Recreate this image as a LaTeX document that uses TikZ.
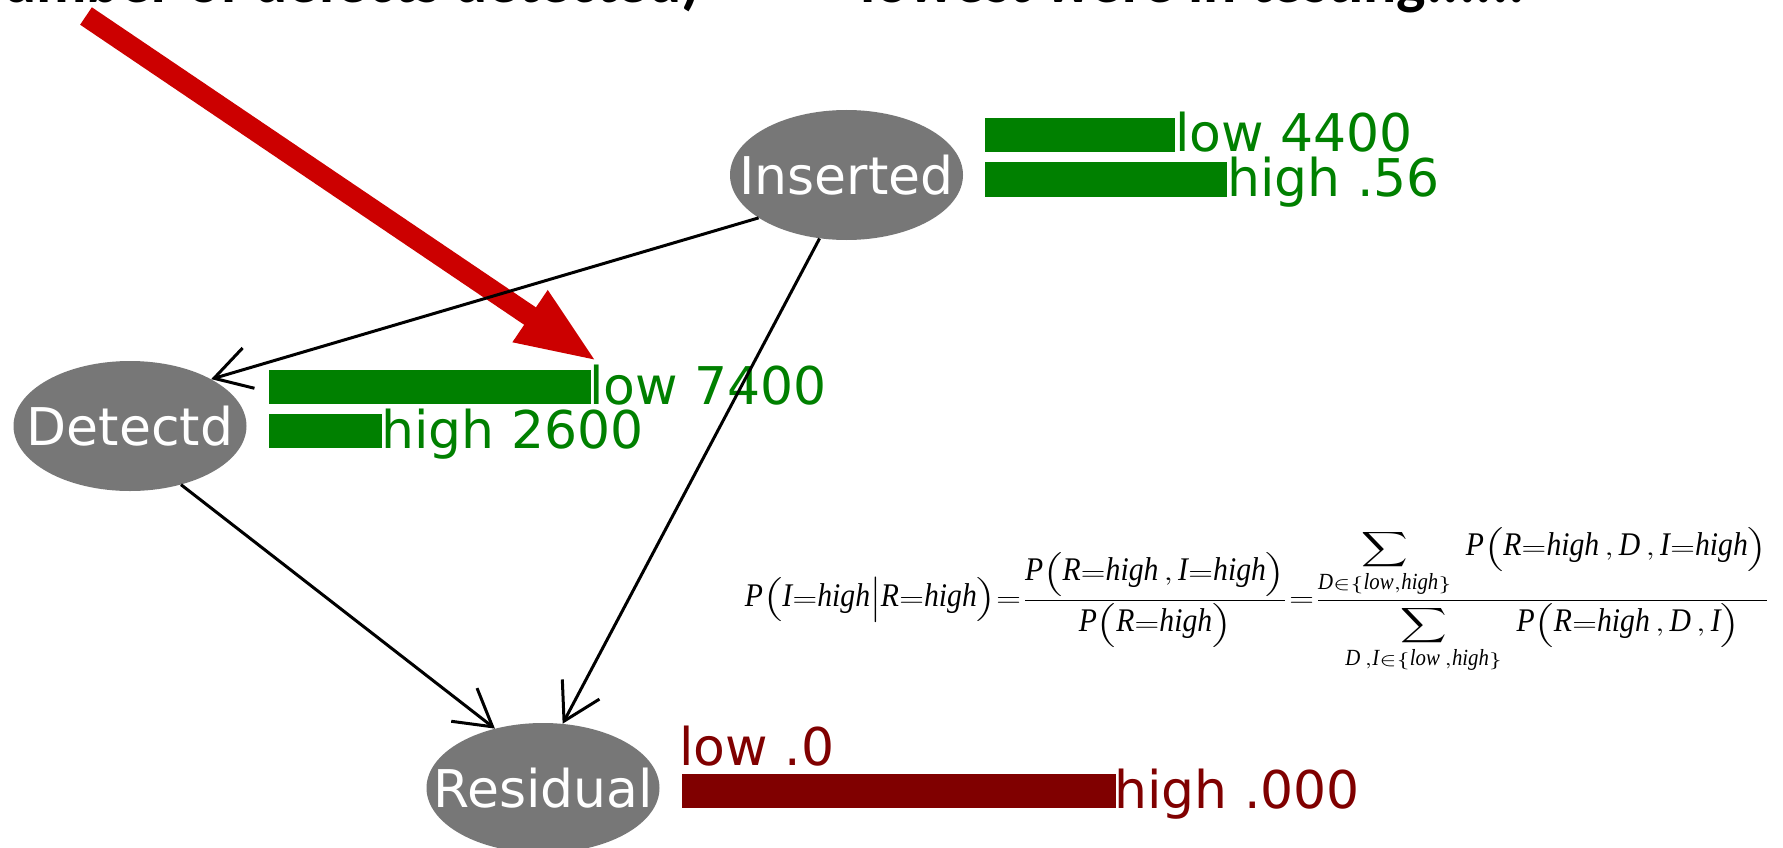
\documentclass[tikz,border=0pt]{standalone}
\usepackage{amsmath}
\usepackage{graphicx}
\usepackage{fontspec}
\usetikzlibrary{shapes.geometric,arrows.meta}

\newfontfamily\netfont{DejaVu Sans}
\newfontfamily\formfont{Liberation Serif}
\newfontfamily\slidefont{Carlito}

% italic variable names in the formula, set tall and narrow
\newcommand\fv[1]{\text{\scalebox{0.92}[1.35]{\formfont\itshape #1}}}
% node caption that does not widen the ellipse
\newcommand\nodecap[1]{\makebox[0pt]{#1}}

\definecolor{nodegrey}{HTML}{777777}
\definecolor{bargreen}{HTML}{008000}
\definecolor{barred}{HTML}{800000}
\definecolor{annotred}{HTML}{CC0000}

\begin{document}
\begin{tikzpicture}[x=1pt,y=-1pt,
  bnode/.style={ellipse, fill=nodegrey, minimum width=233pt, minimum height=130pt,
    inner sep=0pt, text=white, font=\netfont\fontsize{52}{60}\selectfont},
  glabel/.style={inner sep=0pt, text=bargreen, font=\netfont\fontsize{52}{60}\selectfont},
  rlabel/.style={inner sep=0pt, text=barred, font=\netfont\fontsize{52}{60}\selectfont},
  link/.style={draw=black, line width=3pt, -{Straight Barb[length=36pt,width=42pt]}},
  pointer/.style={draw=annotred, line width=21pt, -{Triangle[length=82pt,width=56pt]}},
  slide/.style={inner sep=0pt, text=black, font=\slidefont\bfseries\fontsize{62}{70}\selectfont},
  formula/.style={inner sep=0pt, text=black}]

\useasboundingbox (0,0) rectangle (1783,848);
\clip (0,0) rectangle (1783,848);
\fill[white] (0,0) rectangle (1783,848);

% heading line, mostly above the page edge
\node[slide, anchor=base east] (headA) at (701,3) {number of defects detected)};
\node[slide, anchor=base west] (headB) at (860,3) {lowest were in testing......};

% network nodes
\node[bnode] (ins) at (846.5,175) {\nodecap{Inserted}};
\node[bnode] (det) at (130,426) {\nodecap{Detectd}};
\node[bnode] (res) at (543,788) {\nodecap{Residual}};

% belief bars
\fill[bargreen] (985,118) rectangle (1175,152);
\fill[bargreen] (985,162) rectangle (1227,197);
\fill[bargreen] (269,370) rectangle (591,404);
\fill[bargreen] (269,414) rectangle (382,448);
\fill[barred]   (682,774) rectangle (1116,808);

\node[glabel, anchor=base west] (insLow)  at (1175,152) {low 4400};
\node[glabel, anchor=base west] (insHigh) at (1227,196) {high .56};
\node[glabel, anchor=base west] (detLow)  at (589,404) {low 7400};
\node[glabel, anchor=base west] (detHigh) at (381,448) {high 2600};
\node[rlabel, anchor=base west] (resLow)  at (679,765) {low .0};
\node[rlabel, anchor=base west] (resHigh) at (1114,808) {high .000};

% annotation arrow
\coordinate (ptrTail) at (86,16);
\coordinate (ptrTip) at (598,362);
\draw[pointer] (ptrTail) -- (ptrTip);

% dependencies
\draw[link] (ins.206) -- (det.30);
\draw[link] (ins.247.5) -- (res.73);
\draw[link] (det.311) -- (res.129);

% posterior of Inserted given Residual
\node[formula] (bayes) at (1258,600) {\resizebox*{1026pt}{145pt}{$
  \fv{P}{\left(\fv{I}{=}\fv{high}\middle|\fv{R}{=}\fv{high}\right)}{=}
  \dfrac{\fv{P}{\left(\fv{R}{=}\fv{high}\,,\fv{I}{=}\fv{high}\right)}}
        {\fv{P}{\left(\fv{R}{=}\fv{high}\right)}}{=}
  \dfrac{\displaystyle\sum_{\fv{D}\in\{\fv{low},\fv{high}\}}\;
           \fv{P}{\left(\fv{R}{=}\fv{high}\,,\fv{D}\,,\fv{I}{=}\fv{high}\right)}}
        {\displaystyle\sum_{\fv{D}\,,\fv{I}\in\{\fv{low}\,,\fv{high}\}}\;
           \fv{P}{\left(\fv{R}{=}\fv{high}\,,\fv{D}\,,\fv{I}\right)}}
$}};

\end{tikzpicture}
\end{document}
